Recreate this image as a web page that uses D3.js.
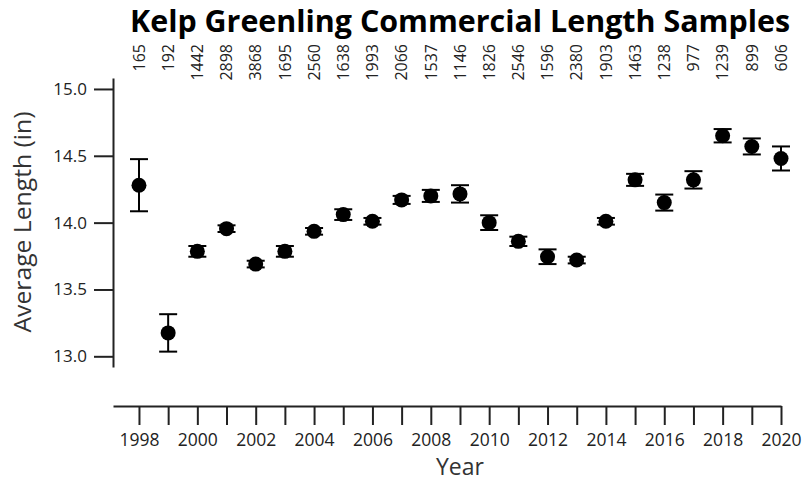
<!DOCTYPE html>
<html>
<head>
<meta charset="utf-8">
<script src="https://cdn.jsdelivr.net/npm/d3@7"></script>
<style>
  html, body { margin: 0; padding: 0; background: #fff; }
  svg text { font-family: "Open Sans", "Noto Sans", sans-serif; fill: #1a1a1a; }
</style>
</head>
<body>
<svg id="chart" width="805" height="481"></svg>
<script>
const years = d3.range(1998, 2021);
const meanLength = [14.28, 13.175, 13.785, 13.955, 13.69, 13.785, 13.935, 14.06, 14.01, 14.17, 14.20, 14.215, 14.0, 13.86, 13.745, 13.72, 14.01, 14.32, 14.15, 14.32, 14.65, 14.57, 14.48];
const errorHalf = [0.195, 0.14, 0.04, 0.025, 0.025, 0.04, 0.025, 0.04, 0.025, 0.03, 0.045, 0.065, 0.055, 0.035, 0.055, 0.025, 0.025, 0.045, 0.06, 0.065, 0.05, 0.06, 0.09];
const sampleCounts = [165, 192, 1442, 2898, 3868, 1695, 2560, 1638, 1993, 2066, 1537, 1146, 1826, 2546, 1596, 2380, 1903, 1463, 1238, 977, 1239, 899, 606];
const yTicks = [13.0, 13.5, 14.0, 14.5, 15.0];
const xLabelYears = d3.range(1998, 2021, 2);

const svg = d3.select("#chart");

const x = d3.scaleLinear().domain([1997.11, 2020]).range([113, 781]);
const y = d3.scaleLinear().domain([12.92, 15.082]).range([367, 78]);

// Title
svg.append("text")
  .attr("x", 460).attr("y", 32)
  .attr("text-anchor", "middle")
  .attr("font-size", 30).attr("font-weight", "bold")
  .attr("textLength", 660).attr("lengthAdjust", "spacingAndGlyphs")
  .style("fill", "#000")
  .text("Kelp Greenling Commercial Length Samples");

// Y axis
const yAxis = d3.axisLeft(y).tickValues(yTicks).tickFormat(d3.format(".1f")).tickSize(19).tickSizeOuter(0).tickPadding(7);
const gy = svg.append("g").attr("transform", "translate(113,0)").call(yAxis);
gy.select(".domain").attr("stroke", "#222").attr("stroke-width", 2);
gy.selectAll(".tick line").attr("stroke", "#222").attr("stroke-width", 2);
gy.selectAll(".tick text").attr("font-size", 17).style("font-family", "'Open Sans', sans-serif").style("fill", "#222");

// X axis (separate, lower)
const xAxis = d3.axisBottom(x).tickValues(years).tickFormat(d => xLabelYears.includes(d) ? d : "").tickSize(19).tickSizeOuter(0).tickPadding(9);
const gx = svg.append("g").attr("transform", "translate(0,406)").call(xAxis);
gx.select(".domain").attr("stroke", "#222").attr("stroke-width", 2);
gx.selectAll(".tick line").attr("stroke", "#222").attr("stroke-width", 2);
gx.selectAll(".tick text").attr("font-size", 17.5).style("font-family", "'Open Sans', sans-serif").style("fill", "#222");

// Axis titles
svg.append("text")
  .attr("transform", "translate(31,222) rotate(-90)")
  .attr("text-anchor", "middle")
  .attr("font-size", 24)
  .attr("textLength", 221).attr("lengthAdjust", "spacingAndGlyphs")
  .style("fill", "#333")
  .text("Average Length (in)");

svg.append("text")
  .attr("x", 460).attr("y", 475)
  .attr("text-anchor", "middle")
  .attr("font-size", 23)
  .style("fill", "#333")
  .text("Year");

// Sample counts along top
svg.append("g").selectAll("text")
  .data(years)
  .join("text")
  .attr("transform", (d) => `translate(${x(d)},44) rotate(-90)`)
  .attr("text-anchor", "end")
  .attr("dy", "0.36em")
  .attr("font-size", 16)
  .style("fill", "#222")
  .text((d, i) => sampleCounts[i]);

// Error bars
const eb = svg.append("g").attr("stroke", "#000").attr("stroke-width", 2);
years.forEach((yr, i) => {
  const cx = x(yr);
  const top = y(meanLength[i] + errorHalf[i]);
  const bot = y(meanLength[i] - errorHalf[i]);
  eb.append("line").attr("x1", cx).attr("x2", cx).attr("y1", top).attr("y2", bot);
  eb.append("line").attr("x1", cx - 9).attr("x2", cx + 9).attr("y1", top).attr("y2", top);
  eb.append("line").attr("x1", cx - 9).attr("x2", cx + 9).attr("y1", bot).attr("y2", bot);
});

// Points
svg.append("g").selectAll("circle")
  .data(years)
  .join("circle")
  .attr("cx", d => x(d))
  .attr("cy", (d, i) => y(meanLength[i]))
  .attr("r", 7.5)
  .attr("fill", "#000");
</script>
</body>
</html>
